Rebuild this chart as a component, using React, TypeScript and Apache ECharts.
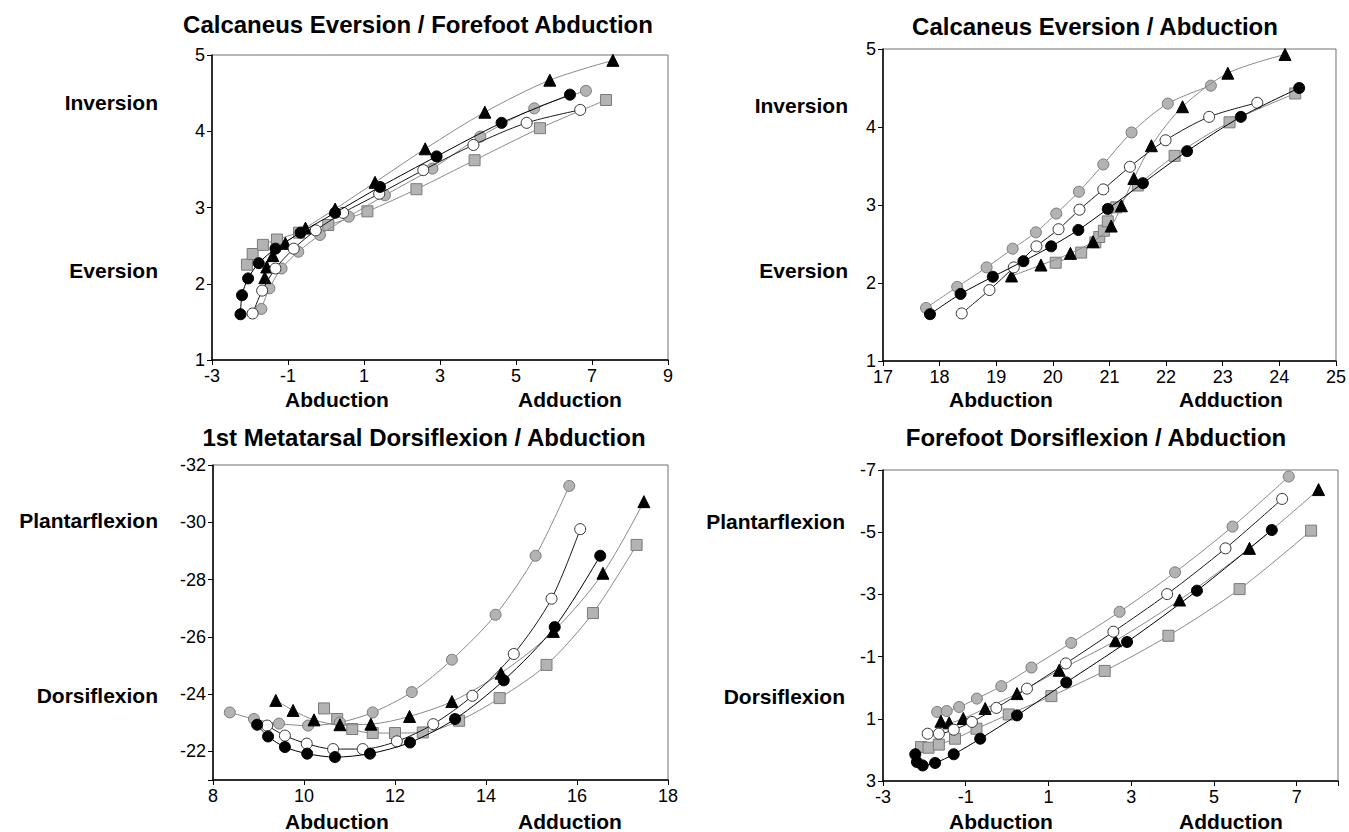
import React, { useEffect, useRef } from 'react';
import * as echarts from 'echarts';

const FONT = '"Liberation Sans", Arial, Helvetica, sans-serif';

// ---------- Panel 1: Calcaneus Eversion / Forefoot Abduction ----------
const p1Black = [[-2.25, 1.6], [-2.21, 1.85], [-2.05, 2.07], [-1.77, 2.27], [-1.33, 2.46], [-0.67, 2.67], [0.24, 2.93], [1.42, 3.27], [2.91, 3.67], [4.62, 4.11], [6.42, 4.48]];
const p1Open = [[-1.93, 1.61], [-1.68, 1.91], [-1.33, 2.2], [-0.85, 2.46], [-0.27, 2.7], [0.45, 2.93], [1.4, 3.18], [2.56, 3.49], [3.88, 3.82], [5.28, 4.11], [6.69, 4.28]];
const p1Gray = [[-1.7, 1.67], [-1.49, 1.94], [-1.17, 2.2], [-0.73, 2.42], [-0.16, 2.64], [0.6, 2.88], [1.55, 3.16], [2.8, 3.51], [4.06, 3.93], [5.48, 4.3], [6.84, 4.53]];
const p1Tri = [[-1.61, 2.08], [-1.56, 2.22], [-1.4, 2.37], [-1.07, 2.53], [-0.54, 2.73], [0.24, 2.98], [1.29, 3.33], [2.61, 3.77], [4.18, 4.25], [5.89, 4.67], [7.55, 4.93]];
const p1Sq = [[-2.08, 2.25], [-1.93, 2.39], [-1.66, 2.51], [-1.29, 2.58], [-0.71, 2.67], [0.06, 2.77], [1.09, 2.95], [2.38, 3.24], [3.91, 3.62], [5.63, 4.04], [7.37, 4.41]];

// ---------- Panel 2: Calcaneus Eversion / Abduction ----------
const p2Black = [[17.83, 1.6], [18.37, 1.86], [18.94, 2.08], [19.48, 2.28], [19.97, 2.47], [20.45, 2.68], [20.97, 2.95], [21.59, 3.28], [22.37, 3.69], [23.32, 4.13], [24.35, 4.5]];
const p2Open = [[18.39, 1.61], [18.88, 1.91], [19.31, 2.2], [19.71, 2.47], [20.1, 2.69], [20.47, 2.94], [20.89, 3.2], [21.36, 3.49], [21.99, 3.83], [22.76, 4.13], [23.61, 4.31]];
const p2Gray = [[17.76, 1.68], [18.31, 1.95], [18.83, 2.2], [19.29, 2.44], [19.7, 2.65], [20.06, 2.89], [20.46, 3.17], [20.89, 3.52], [21.39, 3.93], [22.03, 4.3], [22.79, 4.53]];
const p2Tri = [[19.27, 2.09], [19.79, 2.23], [20.31, 2.38], [20.71, 2.53], [21.03, 2.73], [21.21, 2.99], [21.43, 3.34], [21.74, 3.76], [22.29, 4.26], [23.09, 4.69], [24.1, 4.93]];
const p2Sq = [[20.05, 2.26], [20.5, 2.39], [20.75, 2.52], [20.82, 2.59], [20.9, 2.67], [20.97, 2.79], [21.12, 2.97], [21.5, 3.25], [22.15, 3.63], [23.12, 4.06], [24.28, 4.43]];

// ---------- Panel 3: 1st Metatarsal Dorsiflexion / Abduction ----------
const p3Black = [[8.97, -22.93], [9.21, -22.52], [9.58, -22.15], [10.07, -21.92], [10.68, -21.8], [11.45, -21.92], [12.33, -22.31], [13.32, -23.13], [14.39, -24.48], [15.51, -26.34], [16.51, -28.83]];
const p3Open = [[9.19, -22.9], [9.58, -22.55], [10.06, -22.27], [10.64, -22.08], [11.29, -22.08], [12.04, -22.35], [12.84, -22.95], [13.7, -23.94], [14.61, -25.4], [15.44, -27.33], [16.07, -29.76]];
const p3Gray = [[8.37, -23.36], [8.9, -23.13], [9.45, -22.97], [10.09, -22.9], [10.79, -23.01], [11.51, -23.36], [12.37, -24.07], [13.25, -25.2], [14.21, -26.77], [15.09, -28.83], [15.83, -31.27]];
const p3Tri = [[9.38, -23.78], [9.76, -23.43], [10.22, -23.1], [10.79, -22.93], [11.47, -22.95], [12.32, -23.22], [13.25, -23.74], [14.33, -24.73], [15.48, -26.19], [16.57, -28.22], [17.47, -30.72]];
const p3Sq = [[10.44, -23.5], [10.73, -23.13], [11.06, -22.78], [11.51, -22.64], [12.0, -22.64], [12.61, -22.66], [13.41, -23.07], [14.3, -23.86], [15.33, -25.02], [16.35, -26.83], [17.31, -29.21]];

// ---------- Panel 4: Forefoot Dorsiflexion / Abduction ----------
const p4Black = [[-2.22, 2.14], [-2.18, 2.39], [-2.04, 2.5], [-1.74, 2.42], [-1.29, 2.14], [-0.65, 1.64], [0.24, 0.89], [1.43, -0.17], [2.9, -1.47], [4.59, -3.12], [6.4, -5.07]];
const p4Open = [[-1.92, 1.48], [-1.65, 1.48], [-1.29, 1.35], [-0.85, 1.1], [-0.26, 0.65], [0.48, 0.03], [1.42, -0.78], [2.57, -1.8], [3.87, -3.01], [5.28, -4.48], [6.65, -6.07]];
const p4Gray = [[-1.69, 0.78], [-1.46, 0.75], [-1.16, 0.62], [-0.73, 0.35], [-0.14, -0.05], [0.59, -0.65], [1.55, -1.44], [2.72, -2.44], [4.06, -3.71], [5.45, -5.18], [6.81, -6.79]];
const p4Tri = [[-1.6, 1.08], [-1.4, 1.13], [-1.06, 0.99], [-0.53, 0.67], [0.24, 0.19], [1.26, -0.56], [2.62, -1.51], [4.17, -2.82], [5.86, -4.48], [7.53, -6.37]];
const p4Sq = [[-2.08, 1.91], [-1.9, 1.93], [-1.65, 1.83], [-1.26, 1.64], [-0.74, 1.32], [0.04, 0.86], [1.07, 0.27], [2.36, -0.54], [3.9, -1.67], [5.62, -3.17], [7.35, -5.05]];

// ---------- Axes ranges / texts ----------
const titles = ['Calcaneus Eversion / Forefoot Abduction', 'Calcaneus Eversion / Abduction', '1st Metatarsal Dorsiflexion / Abduction', 'Forefoot Dorsiflexion / Abduction'];
const xRanges = [[-3, 9, 2], [17, 25, 1], [8, 18, 2], [-3, 8, 2]];
const yRanges = [[1, 5, 1], [1, 5, 1], [-32, -21, 2], [-7, 3, 2]];
const yInverse = [false, false, true, true];
const hiddenX = [[], [], [], [8]];
const hiddenY = [[], [], [-21], []];
const upperLabels = ['Inversion', 'Inversion', 'Plantarflexion', 'Plantarflexion'];
const lowerLabels = ['Eversion', 'Eversion', 'Dorsiflexion', 'Dorsiflexion'];
const xLeftLabel = 'Abduction';
const xRightLabel = 'Adduction';

const panelData = [
  [p1Black, p1Open, p1Gray, p1Tri, p1Sq],
  [p2Black, p2Open, p2Gray, p2Tri, p2Sq],
  [p3Black, p3Open, p3Gray, p3Tri, p3Sq],
  [p4Black, p4Open, p4Gray, p4Tri, p4Sq],
];

const grids = [
  { left: 212, top: 55, width: 456, height: 305 },
  { left: 883, top: 49, width: 455, height: 312 },
  { left: 213, top: 465, width: 455, height: 315 },
  { left: 883, top: 470, width: 455, height: 311 },
];

const styles = [
  { symbol: 'circle', size: 11, fill: '#000000', border: '#000000', line: '#000000', z: 6 },
  { symbol: 'circle', size: 11, fill: '#ffffff', border: '#333333', line: '#1a1a1a', z: 5 },
  { symbol: 'circle', size: 11, fill: '#b3b3b3', border: '#7a7a7a', line: '#8a8a8a', z: 3 },
  { symbol: 'triangle', size: 12, fill: '#000000', border: '#000000', line: '#8a8a8a', z: 4 },
  { symbol: 'rect', size: 11, fill: '#b3b3b3', border: '#7a7a7a', line: '#8a8a8a', z: 2 },
];

const titlePos = [[418, 24], [1095, 26], [424, 437], [1096, 437]];
const upperPos = [[158, 102], [848, 105], [158, 520], [845, 521]];
const lowerPos = [[158, 270], [848, 270], [158, 695], [845, 696]];
const xLabelPos = [[337, 570, 399], [1001, 1231, 399], [337, 570, 821], [1001, 1231, 821]];

function textEl(text: string, x: number, y: number, size: number, align: string) {
  return {
    type: 'text',
    x,
    y,
    silent: true,
    style: {
      text,
      font: `bold ${size}px ${FONT}`,
      fill: '#000',
      textAlign: align,
      align,
      textVerticalAlign: 'middle',
      verticalAlign: 'middle',
    },
  };
}

export default function App() {
  const ref = useRef<HTMLDivElement>(null);
  useEffect(() => {
    document.body.style.margin = '0';
    const chart = echarts.init(ref.current!, null, { renderer: 'svg' });

    const axisCommon = (hidden: number[]) => ({
      type: 'value',
      axisLine: { show: true, onZero: false, lineStyle: { color: '#000', width: 1.5 } },
      axisTick: { show: true, inside: false, length: 5, lineStyle: { color: '#000', width: 1 } },
      axisLabel: {
        color: '#000',
        fontSize: 18,
        fontFamily: FONT,
        margin: 7,
        formatter: (v: number) => (hidden.some((h) => Math.abs(h - v) < 1e-9) ? '' : String(v)),
      },
      splitLine: { show: false },
    });

    const xAxis = xRanges.map((r, i) => ({
      ...axisCommon(hiddenX[i]),
      gridIndex: i,
      min: r[0],
      max: r[1],
      interval: r[2],
    }));
    const yAxis = yRanges.map((r, i) => ({
      ...axisCommon(hiddenY[i]),
      gridIndex: i,
      min: r[0],
      max: r[1],
      interval: r[2],
      inverse: yInverse[i],
    }));

    const series: any[] = [];
    panelData.forEach((sets, i) => {
      sets.forEach((data, k) => {
        const s = styles[k];
        series.push({
          type: 'line',
          xAxisIndex: i,
          yAxisIndex: i,
          data,
          smooth: 0.3,
          symbol: s.symbol,
          symbolSize: s.size,
          showSymbol: true,
          z: s.z,
          lineStyle: { color: s.line, width: 1 },
          itemStyle: { color: s.fill, borderColor: s.border, borderWidth: 1 },
          emphasis: { disabled: true },
        });
      });
    });

    const graphic: any[] = [];
    titles.forEach((t, i) => graphic.push(textEl(t, titlePos[i][0], titlePos[i][1], 24, 'center')));
    upperLabels.forEach((t, i) => graphic.push(textEl(t, upperPos[i][0], upperPos[i][1], 21, 'right')));
    lowerLabels.forEach((t, i) => graphic.push(textEl(t, lowerPos[i][0], lowerPos[i][1], 21, 'right')));
    xLabelPos.forEach((p) => {
      graphic.push(textEl(xLeftLabel, p[0], p[2], 21, 'center'));
      graphic.push(textEl(xRightLabel, p[1], p[2], 21, 'center'));
    });

    chart.setOption({
      animation: false,
      backgroundColor: '#ffffff',
      grid: grids.map((g) => ({ ...g, show: true, borderColor: '#707070', borderWidth: 1, backgroundColor: 'transparent' })),
      xAxis,
      yAxis,
      series,
      graphic,
    });
    return () => chart.dispose();
  }, []);
  return <div ref={ref} style={{ width: 1349, height: 832 }} />;
}
